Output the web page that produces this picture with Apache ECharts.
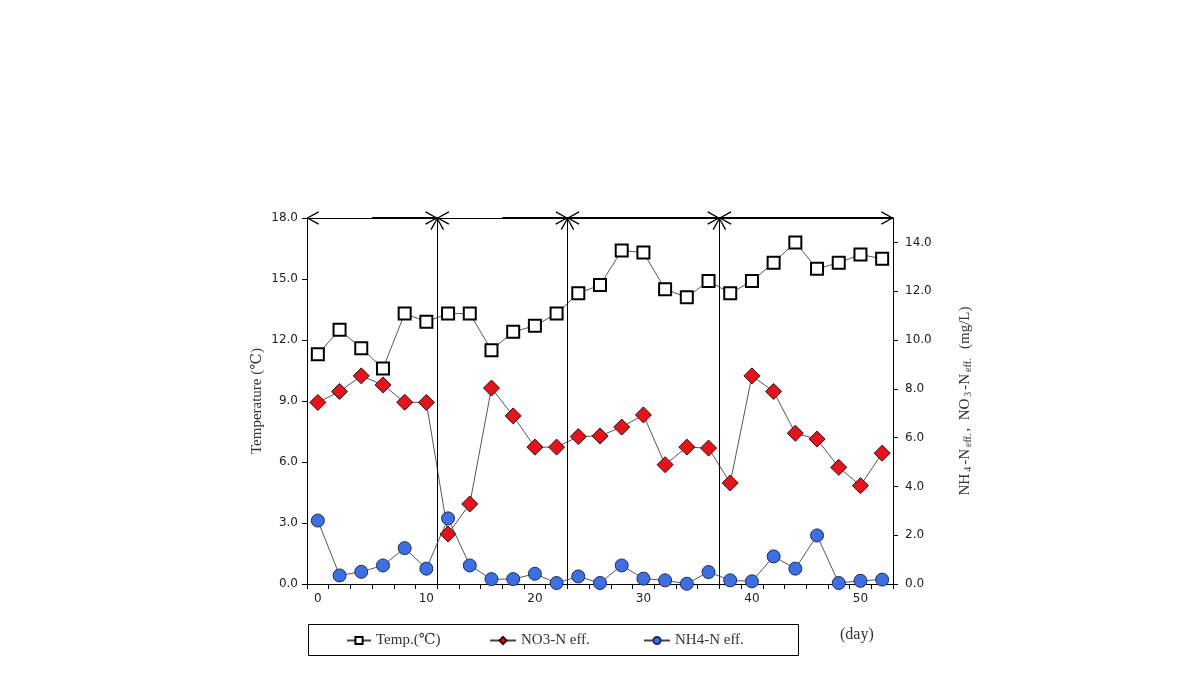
<!DOCTYPE html>
<html>
<head>
<meta charset="utf-8">
<script src="https://cdn.jsdelivr.net/npm/echarts@6/dist/echarts.min.js"></script>
<style>
html,body{margin:0;padding:0;background:#fff;}
#chart{width:1190px;height:699px;}
</style>
</head>
<body>
<div id="chart"></div>
<script>
// ---- data ----
const days = [0,2,4,6,8,10,12,14,16,18,20,22,24,26,28,30,32,34,36,38,40,42,44,46,48,50,52];
const temperature = [11.3,12.5,11.6,10.6,13.3,12.9,13.3,13.3,11.5,12.4,12.7,13.3,14.3,14.7,16.4,16.3,14.5,14.1,14.9,14.3,14.9,15.8,16.8,15.5,15.8,16.2,16.0];
const no3 = [7.44,7.89,8.53,8.16,7.45,7.44,2.05,3.28,8.03,6.89,5.61,5.61,6.04,6.07,6.43,6.93,4.89,5.61,5.57,4.14,8.53,7.89,6.18,5.94,4.78,4.03,5.36];
const nh4 = [2.6,0.35,0.5,0.76,1.47,0.63,2.69,0.76,0.2,0.2,0.42,0.04,0.31,0.04,0.76,0.22,0.15,0.01,0.49,0.15,0.11,1.13,0.63,1.99,0.04,0.13,0.18];
const phaseBounds = [-1, 11, 23, 37, 53];
const xLabelValues = [0,10,20,30,40,50];
const xTickValues = [-1,1,3,5,7,9,11,13,15,17,19,21,23,25,27,29,31,33,35,37,39,41,43,45,47,49,51,53];
const rightTickValues = [0,2,4,6,8,10,12,14];
const seriesNames = ['Temp.(\u2103)', 'NO3-N eff.', 'NH4-N eff.'];

// ---- helpers ----
const pairs = (ys) => days.map((d, i) => [d, ys[i]]);
const chevron = 'path://M0,0 L0.01,0 L0,0.01 Z M24,0 L24.01,0 L24,0.01 Z M12,11 L18.8,22.6 L17.6,23.3 L12,13.4 L6.4,23.3 L5.2,22.6 Z';

const topY = 18;
const arrowLines = [];
for (let i = 0; i < phaseBounds.length - 1; i++) {
  arrowLines.push([
    { coord: [phaseBounds[i], topY], symbol: chevron, lineStyle: { width: i < 2 ? 1 : 2 } },
    { coord: [phaseBounds[i + 1], topY], symbol: chevron }
  ]);
}
// thicker right-hand parts of the first two phase arrows
arrowLines.push([{ coord: [5, topY], symbol: 'none', lineStyle: { width: 2.2 } }, { coord: [11, topY], symbol: 'none' }]);
arrowLines.push([{ coord: [17, topY], symbol: 'none', lineStyle: { width: 2.2 } }, { coord: [23, topY], symbol: 'none' }]);
// vertical phase separators
for (let i = 1; i < phaseBounds.length - 1; i++) {
  arrowLines.push({ xAxis: phaseBounds[i], symbol: 'none', lineStyle: { width: 1 } });
}

const serif = '"Liberation Serif", "DejaVu Serif", serif';
const sans = '"DejaVu Sans", sans-serif';
const lineCol = '#444';

const chart = echarts.init(document.getElementById('chart'), null, { renderer: 'canvas' });
chart.setOption({
  backgroundColor: '#fff',
  animation: false,
  grid: { left: 307, right: 297, top: 218, bottom: 115, containLabel: false },
  legend: [
    { data: [seriesNames[0]], left: 341, top: 628, itemWidth: 24, itemHeight: 9, textStyle: { fontFamily: serif, fontSize: 15, color: '#333' } },
    { data: [seriesNames[1]], left: 484, top: 628, itemWidth: 26, itemHeight: 9, textStyle: { fontFamily: serif, fontSize: 15, color: '#333' } },
    { data: [seriesNames[2]], left: 638, top: 628, itemWidth: 26, itemHeight: 9, textStyle: { fontFamily: serif, fontSize: 15, color: '#333' } }
  ],
  xAxis: {
    type: 'value', min: -1, max: 53,
    axisLine: { show: true, onZero: false, lineStyle: { color: '#000', width: 1 } },
    axisTick: { show: true, customValues: xTickValues, length: 5, lineStyle: { color: '#000' } },
    axisLabel: { customValues: xLabelValues, fontFamily: sans, fontSize: 12, color: '#222', margin: 9 },
    splitLine: { show: false }
  },
  yAxis: [
    {
      type: 'value', min: 0, max: 18, interval: 3, position: 'left',
      name: 'Temperature (\u2103)', nameLocation: 'middle', nameGap: 42,
      nameTextStyle: { fontFamily: serif, fontSize: 15, color: '#333' },
      axisLine: { show: true, onZero: false, lineStyle: { color: '#000', width: 1 } },
      axisTick: { show: true, length: 5, lineStyle: { color: '#000' } },
      axisLabel: { formatter: (v) => v.toFixed(1), fontFamily: sans, fontSize: 12, color: '#222', margin: 9 },
      splitLine: { show: false }
    },
    {
      type: 'value', min: 0, max: 15, interval: 1, position: 'right',
      name: '{b|NH}{s|4}{b|-N}{s|eff.}{b|,  NO}{s|3}{b|-N}{s|eff.}{b|  (mg/L)}',
      nameLocation: 'middle', nameGap: 60, nameRotate: 90,
      nameTextStyle: {
        fontFamily: serif, color: '#333',
        rich: {
          b: { fontFamily: serif, fontSize: 15, color: '#333', lineHeight: 20, verticalAlign: 'bottom' },
          s: { fontFamily: serif, fontSize: 10, color: '#333', lineHeight: 20, verticalAlign: 'bottom', padding: [0, 2, 0, 2] }
        }
      },
      axisLine: { show: true, onZero: false, lineStyle: { color: '#000', width: 1 } },
      axisTick: { show: true, customValues: rightTickValues, length: 5, lineStyle: { color: '#000' } },
      axisLabel: { customValues: rightTickValues, formatter: (v) => v.toFixed(1), fontFamily: sans, fontSize: 12, color: '#222', margin: 12 },
      splitLine: { show: false }
    }
  ],
  series: [
    {
      name: seriesNames[0], type: 'line', yAxisIndex: 0, data: pairs(temperature),
      symbol: 'rect', symbolSize: 12,
      itemStyle: { color: '#fff', borderColor: '#000', borderWidth: 2 },
      lineStyle: { color: lineCol, width: 0.9 },
      z: 3,
      markLine: {
        silent: true, animation: false,
        symbol: [chevron, chevron], symbolSize: 24,
        label: { show: false },
        lineStyle: { color: '#000', type: 'solid', width: 1 },
        emphasis: { disabled: true },
        data: arrowLines
      }
    },
    {
      name: seriesNames[1], type: 'line', yAxisIndex: 1, data: pairs(no3),
      symbol: 'diamond', symbolSize: 16,
      itemStyle: { color: '#e3141c', borderColor: '#3a0a0a', borderWidth: 1 },
      lineStyle: { color: lineCol, width: 0.9 },
      z: 4
    },
    {
      name: seriesNames[2], type: 'line', yAxisIndex: 1, data: pairs(nh4),
      symbol: 'circle', symbolSize: 13,
      itemStyle: { color: '#3d6fe0', borderColor: '#1a2c66', borderWidth: 1 },
      lineStyle: { color: lineCol, width: 0.9 },
      z: 5
    }
  ],
  graphic: [
    { type: 'rect', left: 306, top: 622, shape: { width: 490, height: 31 }, style: { fill: 'none', stroke: '#000', lineWidth: 1 }, silent: true },
    { type: 'text', left: 840, top: 627, style: { text: '(day)', fontFamily: serif, fontSize: 16, fill: '#333' }, silent: true }
  ]
});
</script>
</body>
</html>
